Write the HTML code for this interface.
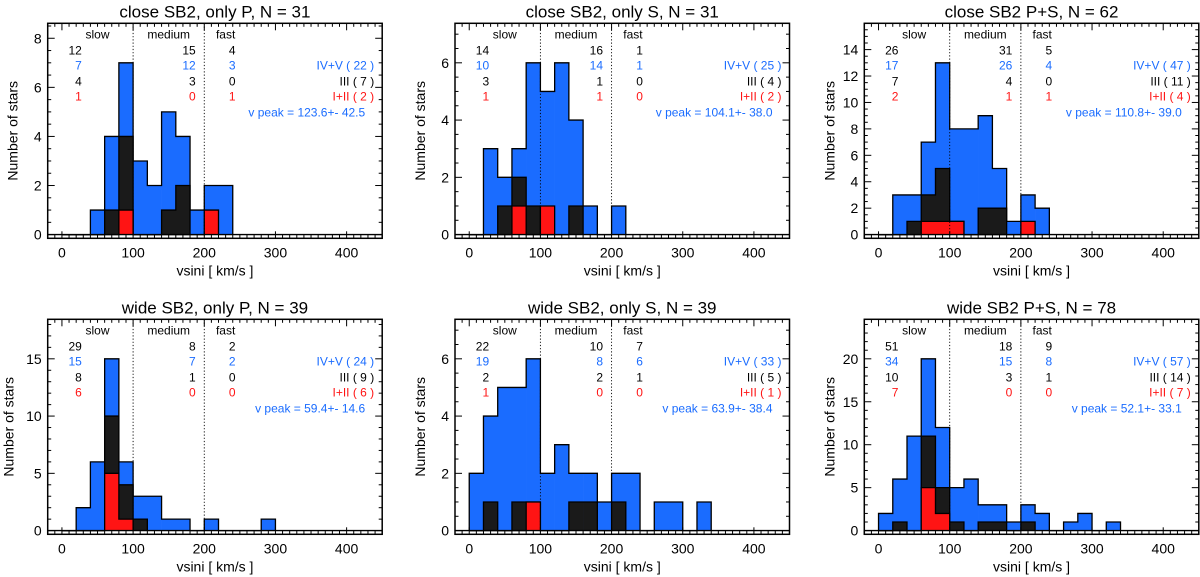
<!DOCTYPE html>
<html><head><meta charset="utf-8"><style>
html,body{margin:0;padding:0;background:#fff;}
svg{display:block;font-family:"Liberation Sans",sans-serif;}
</style></head><body>
<svg id="chart" width="1200" height="577" viewBox="0 0 1200 577" xmlns="http://www.w3.org/2000/svg"></svg>
<script>
// ---- data (bins of 20 km/s starting at 0) ----
const binWidth = 20;
const titles = ["close SB2, only P, N = 31","close SB2, only S, N = 31","close SB2 P+S, N = 62","wide SB2, only P, N = 39","wide SB2, only S, N = 39","wide SB2 P+S, N = 78"];
const blueCounts = [
 [0,0,1,4,7,3,2,5,4,1,2,2],
 [0,3,2,3,6,5,6,4,1,0,1],
 [0,3,3,7,13,8,8,9,5,1,3,2],
 [0,2,6,15,6,3,3,1,1,0,1,0,0,0,1],
 [2,4,5,5,6,2,3,2,2,1,2,2,0,1,1,0,1],
 [2,6,11,20,12,5,6,3,3,1,3,2,0,1,2,0,1]
];
const blackCounts = [
 [0,0,0,1,4,0,0,1,2],
 [0,0,1,2,1,0,0,1],
 [0,0,1,3,5,1,0,2,2],
 [0,0,0,10,4,1],
 [0,1,0,1,1,0,0,1,1,0,1],
 [0,1,0,11,5,1,0,1,1,0,1]
];
const redCounts = [
 [0,0,0,0,1,0,0,0,0,0,1],
 [0,0,0,1,0,1],
 [0,0,0,1,1,1,0,0,0,0,1],
 [0,0,0,5,1],
 [0,0,0,0,1],
 [0,0,0,5,2]
];
const yMajor = [2,2,2,5,2,5];
const yMinor = [0.5,0.5,0.5,1,0.5,1];
const slowNums = [["12","7","4","1"],["14","10","3","1"],["26","17","7","2"],["29","15","8","6"],["22","19","2","1"],["51","34","10","7"]];
const medNums = [["15","12","3","0"],["16","14","1","1"],["31","26","4","1"],["8","7","1","0"],["10","8","2","0"],["18","15","3","0"]];
const fastNums = [["4","3","0","1"],["1","1","0","0"],["5","4","0","1"],["2","2","0","0"],["7","6","1","0"],["9","8","1","0"]];
const classLabels = [["IV+V ( 22 )","III ( 7 )","I+II ( 2 )"],["IV+V ( 25 )","III ( 4 )","I+II ( 2 )"],["IV+V ( 47 )","III ( 11 )","I+II ( 4 )"],["IV+V ( 24 )","III ( 9 )","I+II ( 6 )"],["IV+V ( 33 )","III ( 5 )","I+II ( 1 )"],["IV+V ( 57 )","III ( 14 )","I+II ( 7 )"]];
const vpeak = ["v peak = 123.6+- 42.5","v peak = 104.1+- 38.0","v peak = 110.8+- 39.0","v peak = 59.4+- 14.6","v peak = 63.9+- 38.4","v peak = 52.1+- 33.1"];
const xTicks = [0,100,200,300,400];

// ---- layout ----
const NS="http://www.w3.org/2000/svg";
const svg=document.getElementById('chart');
const boxL=[47.7,455,864.3];
const boxW=334.5;
const rowTop=[23.3,319.3];
const boxH=215;
const BLUE="#1a6cff", RED="#ff1414", BLK="#1a1a1a";
function mk(tag,attrs,parent){const e=document.createElementNS(NS,tag);for(const k in attrs)e.setAttribute(k,attrs[k]);(parent||svg).appendChild(e);return e;}

for(let p=0;p<6;p++){
  const col=p%3,row=Math.floor(p/3);
  const L=boxL[col],T=rowTop[row],R=L+boxW,B=T+boxH;
  const maxC=Math.max(...blueCounts[p]);
  const yMax=maxC*1.23, yMin=-(3.7/(boxH-3.7))*yMax;
  const xs=v=>L+(v+20)/470*boxW;
  const ys=v=>B-(v-yMin)/(yMax-yMin)*boxH;
  const g=mk('g',{});
  
  
  const c=mk('clipPath',{id:'clip'+p},g);mk('rect',{x:L,y:T,width:boxW,height:boxH},c);
  const layers=[[blueCounts[p],BLUE,'blue'],[blackCounts[p],BLK,'black'],[redCounts[p],RED,'red']];
  const hg=mk('g',{'clip-path':'url(#clip'+p+')'},g);
  layers.forEach(([arr,color,nm])=>{
    // fills per bin (no stroke)
    arr.forEach((v,i)=>{
      if(!v)return;
      const r=mk('rect',{x:xs(i*binWidth),y:ys(v),width:xs((i+1)*binWidth)-xs(i*binWidth)+0.3,height:ys(0)-ys(v),fill:color},hg);
      
      
    });
    // step outline
    let d='M'+xs(0)+','+ys(0);
    arr.forEach((v,i)=>{d+=' L'+xs(i*binWidth)+','+ys(v)+' L'+xs((i+1)*binWidth)+','+ys(v);});
    d+=' L'+xs(arr.length*binWidth)+','+ys(0);
    const o=mk('path',{d:d,fill:'none',stroke:'#000','stroke-width':1.3,'stroke-linejoin':'miter'},hg);
    
    
  });
  // baseline
  mk('line',{x1:L,x2:R,y1:ys(0),y2:ys(0),stroke:'#000','stroke-width':1.4},g);
  // dotted dividers
  [100,200].forEach(v=>{const d=mk('line',{x1:xs(v),x2:xs(v),y1:T,y2:B,stroke:'#000','stroke-width':0.9,'stroke-dasharray':'1.2,2'},g);
    });
  // box
  const bx=mk('rect',{x:L,y:T,width:boxW,height:boxH,fill:'none',stroke:'#000','stroke-width':1.5},g);
  
  // x ticks
  for(let v=-20;v<=450;v+=10){
    const major=v%100===0, len=major?7:3.5;
    mk('line',{x1:xs(v),x2:xs(v),y1:B,y2:B-len,stroke:'#000','stroke-width':1},g);
    mk('line',{x1:xs(v),x2:xs(v),y1:T,y2:T+len,stroke:'#000','stroke-width':1},g);
  }
  xTicks.forEach(v=>{const t=mk('text',{x:xs(v),y:B+19,'font-size':14,'text-anchor':'middle'},g);t.textContent=v;
    });
  // y ticks
  for(let v=0;v<=yMax+1e-6;v+=yMinor[p]){
    const major=Math.abs(v/yMajor[p]-Math.round(v/yMajor[p]))<1e-6, len=major?7:3.5;
    mk('line',{x1:L,x2:L+len,y1:ys(v),y2:ys(v),stroke:'#000','stroke-width':1},g);
    mk('line',{x1:R,x2:R-len,y1:ys(v),y2:ys(v),stroke:'#000','stroke-width':1},g);
    if(major){const t=mk('text',{x:L-6,y:ys(v)+5,'font-size':14,'text-anchor':'end'},g);t.textContent=Math.round(v);
      }
  }
  // titles / axis labels
  const tt=mk('text',{x:L+boxW/2,y:T-6,'font-size':17,'text-anchor':'middle'},g);tt.textContent=titles[p];
  
  const xl=mk('text',{x:L+boxW/2,y:B+37,'font-size':14,'text-anchor':'middle','xml:space':'preserve'},g);xl.textContent="vsini  [ km/s ]";
  
  const ylx=L-(col===0&&row===1?34:30);
  const yl=mk('text',{x:ylx,y:T+boxH/2,'font-size':14,'text-anchor':'middle',transform:'rotate(-90 '+ylx+' '+(T+boxH/2)+')'},g);yl.textContent="Number of stars";
  
  // annotations
  const rowY=[15,31,46,62,77,93];
  const colors=['#000',BLUE,'#000',RED];
  [['slow',50],['medium',150],['fast',230]].forEach(([s,v])=>{const t=mk('text',{x:xs(v),y:T+rowY[0],'font-size':12,'text-anchor':'middle'},g);t.textContent=s;
    });
  [[slowNums[p],28],[medNums[p],188],[fastNums[p],244]].forEach(([arr,v])=>{
    arr.forEach((s,i)=>{const t=mk('text',{x:xs(v),y:T+rowY[i+1],'font-size':12,'text-anchor':'end',fill:colors[i]},g);t.textContent=s;
      });
  });
  classLabels[p].forEach((s,i)=>{const t=mk('text',{x:R-8,y:T+rowY[i+2],'font-size':12,'text-anchor':'end',fill:[BLUE,'#000',RED][i]},g);t.textContent=s;
    });
  const vp=mk('text',{x:R-17,y:T+rowY[5],'font-size':12,'text-anchor':'end',fill:BLUE},g);vp.textContent=vpeak[p];
  
}
</script>
</body></html>
